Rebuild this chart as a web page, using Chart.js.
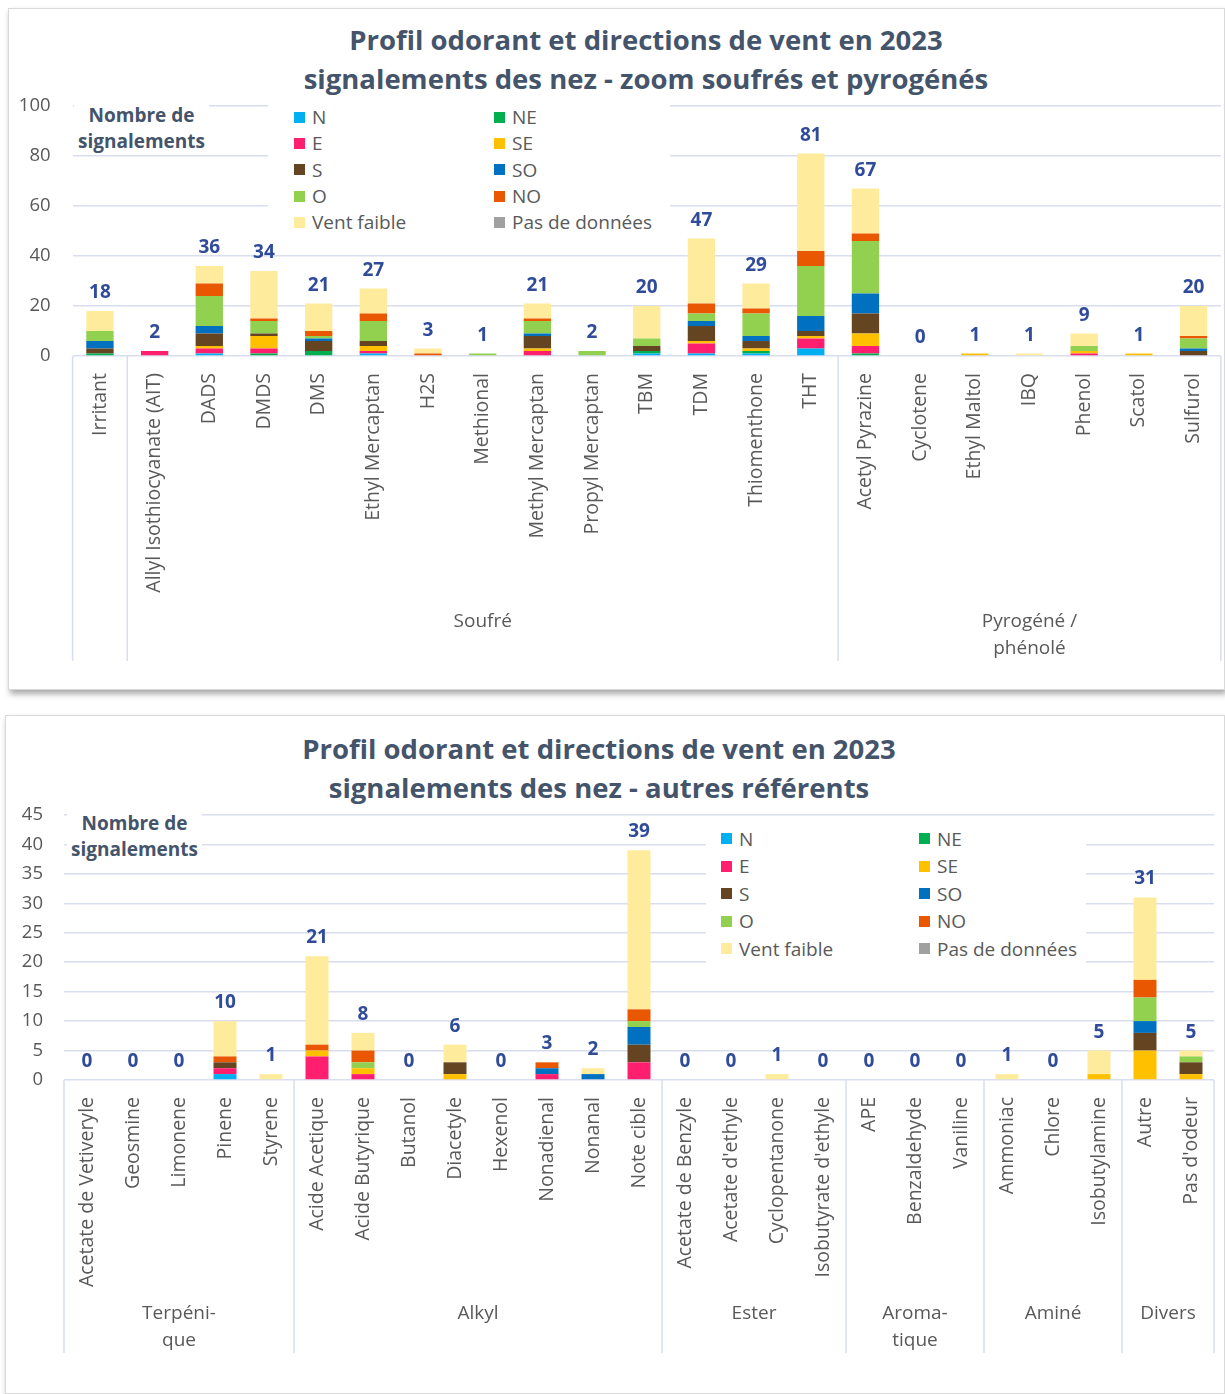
<!DOCTYPE html>
<html lang="fr">
<head>
<meta charset="utf-8">
<title>Profil odorant et directions de vent en 2023</title>
<script src="https://cdn.jsdelivr.net/npm/chart.js@4.4.1/dist/chart.umd.min.js"></script>
<style>
  html, body { margin: 0; padding: 0; background: #fff; }
  body { width: 1225px; height: 1394px; position: relative; overflow: hidden; font-family: "Open Sans", sans-serif; }
  .card { position: absolute; background: #fff; border: 1px solid #d9d9d9; box-shadow: 2px 4px 6px rgba(0,0,0,0.35); box-sizing: border-box; }
  .card canvas { position: absolute; left: 0; top: 0; }
  .title { position: absolute; width: 1000px; text-align: center; font-weight: 700; font-size: 27.5px; line-height: 39px; color: #44546A; }
  .ytitle { position: absolute; background: #fff; font-weight: 700; font-size: 19px; line-height: 26px; color: #44546A; text-align: center; padding: 0 4px; }
  .legend { position: absolute; background: #fff; display: grid; font-size: 19px; color: #595959; box-sizing: border-box; }
  .legend div { display: flex; align-items: center; white-space: nowrap; }
  .legend span { display: inline-block; width: 11px; height: 11px; margin-right: 7px; }
</style>
</head>
<body>

<div class="card" id="card1" style="left:8px;top:8px;width:1217px;height:682px;">
  <div class="title" style="left:137px;top:11px;">Profil odorant et directions de vent en 2023<br>signalements des nez - zoom soufrés et pyrogénés</div>
  <div style="position:absolute;left:0;top:0;width:1217px;height:682px;"><canvas id="chart1"></canvas></div>
  <div class="ytitle" style="left:65px;top:93px;">Nombre de<br>signalements</div>
  <div class="legend" id="legend1" style="left:259px;top:88px;width:402px;height:140px;padding:7px 0 0 26px;grid-template-columns:200px 170px;grid-auto-rows:26.3px;"></div>
</div>

<div class="card" id="card2" style="left:5px;top:715px;width:1220px;height:679px;">
  <div class="title" style="left:93px;top:13px;">Profil odorant et directions de vent en 2023<br>signalements des nez - autres référents</div>
  <div style="position:absolute;left:0;top:0;width:1220px;height:679px;"><canvas id="chart2"></canvas></div>
  <div class="ytitle" style="left:61px;top:94px;">Nombre de<br>signalements</div>
  <div class="legend" id="legend2" style="left:700px;top:108px;width:380px;height:145px;padding:1px 0 0 15px;grid-template-columns:198px 165px;grid-auto-rows:27.5px;"></div>
</div>

<script>
// ========================================
// DATA
// ========================================
const SERIES = ["N", "NE", "E", "SE", "S", "SO", "O", "NO", "Vent faible", "Pas de données"];
const SERIES_COLORS = ["#00B0F0", "#00B050", "#FF1F6E", "#FFC000", "#654521", "#0070C0", "#92D050", "#E95800", "#FFEB9C", "#A0A0A0"];

// ---- chart 1 : soufrés et pyrogénés
const cats1 = ["Irritant", "Allyl Isothiocyanate (AIT)", "DADS", "DMDS", "DMS", "Ethyl Mercaptan", "H2S",
  "Methional", "Methyl Mercaptan", "Propyl Mercaptan", "TBM", "TDM", "Thiomenthone", "THT",
  "Acetyl Pyrazine", "Cyclotene", "Ethyl Maltol", "IBQ", "Phenol", "Scatol", "Sulfurol"];
const groupNames1 = [[""], ["Soufré"], ["Pyrogéné /", "phénolé"]];
const groupSizes1 = [1, 13, 7];

const n1  = [0, 0, 1, 0, 0, 1, 0, 0, 0, 0, 1, 1, 1, 3, 0, 0, 0, 0, 0, 0, 0];
const ne1 = [1, 0, 0, 1, 2, 0, 0, 0, 0, 0, 1, 0, 1, 0, 1, 0, 0, 0, 0, 0, 0];
const e1  = [0, 2, 2, 2, 0, 1, 0, 0, 2, 0, 0, 4, 0, 4, 3, 0, 0, 0, 1, 0, 0];
const se1 = [0, 0, 1, 5, 0, 2, 0, 0, 1, 0, 0, 1, 1, 1, 5, 0, 1, 0, 1, 1, 0];
const s1  = [2, 0, 5, 1, 4, 2, 0, 0, 5, 0, 2, 6, 3, 2, 8, 0, 0, 0, 0, 0, 2];
const so1 = [3, 0, 3, 0, 1, 0, 0, 0, 1, 0, 0, 2, 2, 6, 8, 0, 0, 0, 0, 0, 1];
const o1  = [4, 0, 12, 5, 1, 8, 0, 1, 5, 2, 3, 3, 9, 20, 21, 0, 0, 0, 2, 0, 4];
const no1 = [0, 0, 5, 1, 2, 3, 1, 0, 1, 0, 0, 4, 2, 6, 3, 0, 0, 0, 0, 0, 1];
const vf1 = [8, 0, 7, 19, 11, 10, 2, 0, 6, 0, 13, 26, 10, 39, 18, 0, 0, 1, 5, 0, 12];
const pd1 = [0, 0, 0, 0, 0, 0, 0, 0, 0, 0, 0, 0, 0, 0, 0, 0, 0, 0, 0, 0, 0];
const yTicks1 = { max: 100, step: 20 };

// ---- chart 2 : autres référents
const cats2 = ["Acetate de Vetiveryle", "Geosmine", "Limonene", "Pinene", "Styrene",
  "Acide Acetique", "Acide Butyrique", "Butanol", "Diacetyle", "Hexenol", "Nonadienal", "Nonanal", "Note cible",
  "Acetate de Benzyle", "Acetate d'ethyle", "Cyclopentanone", "Isobutyrate d'ethyle",
  "APE", "Benzaldehyde", "Vaniline", "Ammoniac", "Chlore", "Isobutylamine", "Autre", "Pas d'odeur"];
const groupNames2 = [["Terpéni-", "que"], ["Alkyl"], ["Ester"], ["Aroma-", "tique"], ["Aminé"], ["Divers"]];
const groupSizes2 = [5, 8, 4, 3, 3, 2];

const n2  = [0, 0, 0, 1, 0, 0, 0, 0, 0, 0, 0, 0, 0, 0, 0, 0, 0, 0, 0, 0, 0, 0, 0, 0, 0];
const ne2 = [0, 0, 0, 0, 0, 0, 0, 0, 0, 0, 0, 0, 0, 0, 0, 0, 0, 0, 0, 0, 0, 0, 0, 0, 0];
const e2  = [0, 0, 0, 1, 0, 4, 1, 0, 0, 0, 1, 0, 3, 0, 0, 0, 0, 0, 0, 0, 0, 0, 0, 0, 0];
const se2 = [0, 0, 0, 0, 0, 1, 1, 0, 1, 0, 0, 0, 0, 0, 0, 0, 0, 0, 0, 0, 0, 0, 1, 5, 1];
const s2  = [0, 0, 0, 1, 0, 0, 0, 0, 2, 0, 0, 0, 3, 0, 0, 0, 0, 0, 0, 0, 0, 0, 0, 3, 2];
const so2 = [0, 0, 0, 0, 0, 0, 0, 0, 0, 0, 1, 1, 3, 0, 0, 0, 0, 0, 0, 0, 0, 0, 0, 2, 0];
const o2  = [0, 0, 0, 0, 0, 0, 1, 0, 0, 0, 0, 0, 1, 0, 0, 0, 0, 0, 0, 0, 0, 0, 0, 4, 1];
const no2 = [0, 0, 0, 1, 0, 1, 2, 0, 0, 0, 1, 0, 2, 0, 0, 0, 0, 0, 0, 0, 0, 0, 0, 3, 0];
const vf2 = [0, 0, 0, 6, 1, 15, 3, 0, 3, 0, 0, 1, 27, 0, 0, 1, 0, 0, 0, 0, 1, 0, 4, 14, 1];
const pd2 = [0, 0, 0, 0, 0, 0, 0, 0, 0, 0, 0, 0, 0, 0, 0, 0, 0, 0, 0, 0, 0, 0, 0, 0, 0];
const yTicks2 = { max: 45, step: 5 };

const FONT = "'Open Sans', sans-serif";
const GRID_COLOR = "#D9DEEF";

// ========================================
// PLUGINS
// ========================================

// group separators + group labels under the rotated category labels
const groupPlugin = {
  id: "groups",
  afterDraw(chart, args, opts) {
    const { ctx, chartArea, scales: { x } } = chart;
    const half = (x.getPixelForValue(1) - x.getPixelForValue(0)) / 2;
    const y0 = chartArea.bottom;
    ctx.save();
    ctx.strokeStyle = GRID_COLOR;
    ctx.lineWidth = 1.5;
    ctx.fillStyle = "#595959";
    ctx.font = `19px ${FONT}`;
    ctx.textAlign = "center";
    ctx.textBaseline = "middle";
    let idx = 0;
    const line = px => {
      ctx.beginPath();
      ctx.moveTo(px, y0);
      ctx.lineTo(px, y0 + opts.lineLen);
      ctx.stroke();
    };
    opts.names.forEach((name, g) => {
      const start = x.getPixelForValue(idx) - half;
      line(start);
      const center = start + opts.sizes[g] * half;
      name.forEach((t, k) => ctx.fillText(t, center, y0 + opts.labelOffset + k * 27));
      idx += opts.sizes[g];
    });
    line(x.getPixelForValue(idx - 1) + half);
    ctx.restore();
  }
};

// stack totals above each bar
const totalsPlugin = {
  id: "totals",
  afterDatasetsDraw(chart) {
    const { ctx, scales: { x, y } } = chart;
    ctx.save();
    ctx.fillStyle = "#2F4B9A";
    ctx.font = `bold 19px ${FONT}`;
    ctx.textAlign = "center";
    ctx.textBaseline = "alphabetic";
    chart.data.labels.forEach((_, i) => {
      const total = chart.data.datasets.reduce((a, ds) => a + ds.data[i], 0);
      ctx.fillText(String(total), x.getPixelForValue(i), y.getPixelForValue(total) - 13);
    });
    ctx.restore();
  }
};

// ========================================
// CHART BUILDER
// ========================================
function buildLegend(id) {
  const el = document.getElementById(id);
  SERIES.forEach((name, k) => {
    const item = document.createElement("div");
    item.innerHTML = `<span style="background:${SERIES_COLORS[k]}"></span>${name}`;
    el.appendChild(item);
  });
}

function makeChart(canvasId, cats, seriesData, yTicks, groups, geom) {
  const ctx = document.getElementById(canvasId).getContext("2d");
  return new Chart(ctx, {
    type: "bar",
    data: {
      labels: cats,
      datasets: SERIES.map((name, k) => ({
        label: name,
        data: seriesData[k],
        backgroundColor: SERIES_COLORS[k],
        borderWidth: 0,
        barPercentage: 0.5,
        categoryPercentage: 1
      }))
    },
    plugins: [groupPlugin, totalsPlugin],
    options: {
      responsive: true,
      maintainAspectRatio: false,
      animation: false,
      layout: { padding: { left: 0, right: geom.padRight, top: geom.top, bottom: 0 } },
      plugins: {
        legend: { display: false },
        tooltip: { enabled: false },
        groups: { names: groups.names, sizes: groups.sizes, lineLen: geom.lineLen, labelOffset: geom.labelOffset }
      },
      scales: {
        x: {
          stacked: true,
          grid: { display: false },
          border: { display: false },
          ticks: {
            autoSkip: false,
            maxRotation: 90,
            minRotation: 90,
            padding: 9,
            color: "#595959",
            font: { family: FONT, size: 19.5 }
          },
          afterFit: s => { s.height = geom.xHeight; }
        },
        y: {
          stacked: true,
          min: 0,
          max: yTicks.max,
          ticks: {
            stepSize: yTicks.step,
            padding: geom.yPad,
            color: "#595959",
            font: { family: FONT, size: 18.5 }
          },
          grid: { color: GRID_COLOR, lineWidth: 1.5, drawTicks: false },
          border: { display: false },
          afterFit: s => { s.width = geom.yWidth; }
        }
      }
    }
  });
}

// ========================================
// INITIALIZE
// ========================================
buildLegend("legend1");
buildLegend("legend2");

makeChart("chart1", cats1, [n1, ne1, e1, se1, s1, so1, o1, no1, vf1, pd1], yTicks1,
  { names: groupNames1, sizes: groupSizes1 },
  { top: 97, padRight: 3, xHeight: 335, yWidth: 63.6, yPad: 22, lineLen: 305, labelOffset: 266 });

makeChart("chart2", cats2, [n2, ne2, e2, se2, s2, so2, o2, no2, vf2, pd2], yTicks2,
  { names: groupNames2, sizes: groupSizes2 },
  { top: 99, padRight: 12, xHeight: 315, yWidth: 58, yPad: 21, lineLen: 273, labelOffset: 234 });
</script>
</body>
</html>
